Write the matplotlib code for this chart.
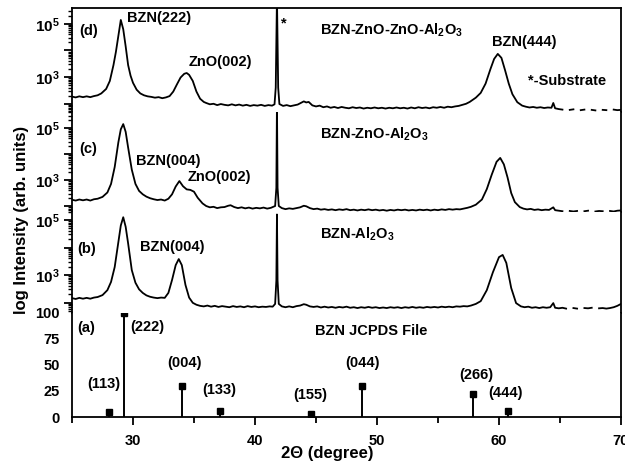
import matplotlib
matplotlib.use("Agg")
import matplotlib.pyplot as plt
import matplotlib.ticker as ticker
import numpy as np

plt.rcParams["font.family"] = ["Liberation Sans", "DejaVu Sans"]
plt.rcParams["font.weight"] = "bold"
plt.rcParams["mathtext.fontset"] = "custom"
plt.rcParams["mathtext.rm"] = "Liberation Sans:bold"
plt.rcParams["mathtext.it"] = "Liberation Sans:bold"
plt.rcParams["mathtext.bf"] = "Liberation Sans:bold"
plt.rcParams["mathtext.default"] = "rm"

nan = float("nan")

# ---- scans: (2theta in degree, log10 of counts) ----
# nan = gap in the trace (zero counts on a log axis)
scan_d = [(25.0, 2.26), (25.3, 2.23), (25.6, 2.27), (25.9, 2.24), (26.2, 2.27), (26.5, 2.24),
          (26.8, 2.28), (27.1, 2.31), (27.4, 2.38), (27.8, 2.55), (28.1, 2.85), (28.4, 3.45),
          (28.6, 3.95), (28.8, 4.55), (29.0, 5.15), (29.2, 4.80), (29.4, 4.15), (29.6, 3.45),
          (29.8, 3.05), (30.0, 2.78), (30.3, 2.52), (30.6, 2.38), (30.9, 2.31), (31.2, 2.27),
          (31.5, 2.25), (31.8, 2.22), (32.1, 2.24), (32.4, 2.20), (32.7, 2.23), (33.0, 2.28),
          (33.3, 2.45), (33.6, 2.72), (33.9, 2.98), (34.2, 3.12), (34.4, 3.15), (34.6, 3.08),
          (34.9, 2.85), (35.2, 2.45), (35.5, 2.18), (35.8, 2.06), (36.0, 2.02), (36.3, 1.97),
          (36.6, 1.99), (36.9, 1.94), (37.2, 1.98), (37.5, 1.95), (37.8, 1.93), (38.1, 1.97),
          (38.4, 1.93), (38.7, 1.96), (39.0, 1.92), (39.3, 1.95), (39.6, 1.91), (39.9, 1.94),
          (40.2, 1.92), (40.5, 1.95), (40.8, 1.91), (41.1, 1.94), (41.4, 1.92), (41.6, 1.97),
          (41.7, 2.60), (41.8, 6.00), (41.9, 2.60), (42.0, 1.98), (42.3, 1.91), (42.6, 1.94),
          (42.9, 1.90), (43.2, 1.93), (43.5, 1.96), (43.8, 2.03), (44.0, 2.08), (44.2, 2.04),
          (44.4, 2.06), (44.7, 1.93), (45.0, 1.89), (45.3, 1.92), (45.6, 1.86), (45.9, 1.89),
          (46.2, 1.84), (46.5, 1.87), (46.8, 1.83), (47.1, 1.87), (47.4, 1.84), (47.7, 1.82),
          (48.0, 1.86), (48.3, 1.83), (48.6, 1.85), (48.9, 1.81), (49.2, 1.84), (49.5, 1.82),
          (49.8, 1.85), (50.1, 1.82), (50.4, 1.84), (50.7, 1.81), (51.0, 1.84), (51.3, 1.82),
          (51.6, 1.85), (51.9, 1.82), (52.2, 1.84), (52.5, 1.81), (52.8, 1.85), (53.1, 1.82),
          (53.4, 1.86), (53.7, 1.83), (54.0, 1.85), (54.3, 1.82), (54.6, 1.86), (54.9, 1.84),
          (55.2, 1.87), (55.5, 1.84), (55.8, 1.88), (56.1, 1.86), (56.4, 1.89), (56.7, 1.91),
          (57.0, 1.95), (57.3, 1.99), (57.6, 2.06), (58.1, 2.22), (58.5, 2.40), (58.9, 2.75),
          (59.3, 3.30), (59.6, 3.68), (59.9, 3.87), (60.2, 3.72), (60.5, 3.25), (60.8, 2.75),
          (61.1, 2.35), (61.5, 2.05), (61.9, 1.92), (62.2, 1.88), (62.5, 1.85), (62.8, 1.87),
          (63.1, 1.84), (63.4, 1.86), (63.7, 1.83), (64.0, 1.85), (64.3, 1.84), (64.45, 2.02),
          (64.6, 1.82), (64.9, 1.79), (65.2, 1.77), (65.5, nan), (65.8, 1.76), (66.1, 1.78),
          (66.4, nan), (66.7, 1.75), (67.0, 1.77), (67.3, nan), (67.6, 1.76), (67.9, 1.74),
          (68.2, nan), (68.5, 1.76), (68.8, 1.75), (69.1, nan), (69.4, 1.77), (69.7, 1.75),
          (70.0, 1.76)]

scan_c = [(25.0, 2.24), (25.3, 2.21), (25.6, 2.25), (25.9, 2.22), (26.2, 2.25), (26.5, 2.21),
          (26.8, 2.26), (27.1, 2.28), (27.5, 2.35), (27.9, 2.52), (28.2, 2.85), (28.5, 3.50),
          (28.8, 4.45), (29.0, 4.95), (29.2, 5.15), (29.4, 4.85), (29.6, 4.25), (29.9, 3.40),
          (30.2, 2.85), (30.5, 2.58), (30.8, 2.45), (31.1, 2.36), (31.4, 2.30), (31.7, 2.26),
          (32.0, 2.23), (32.3, 2.25), (32.6, 2.21), (32.9, 2.28), (33.2, 2.45), (33.5, 2.75),
          (33.8, 2.96), (34.1, 2.76), (34.4, 2.64), (34.7, 2.62), (35.0, 2.55), (35.3, 2.32),
          (35.7, 2.10), (36.0, 2.00), (36.3, 1.95), (36.6, 1.97), (36.9, 1.92), (37.2, 1.95),
          (37.5, 1.96), (37.8, 2.01), (38.0, 2.03), (38.3, 1.96), (38.6, 1.92), (38.9, 1.95),
          (39.2, 1.91), (39.5, 1.94), (39.8, 1.90), (40.1, 1.93), (40.4, 1.91), (40.7, 1.94),
          (41.0, 1.90), (41.3, 1.93), (41.65, 2.00), (41.75, 2.70), (41.8, 6.00), (41.85, 2.70),
          (41.95, 2.00), (42.2, 1.92), (42.5, 1.88), (42.8, 1.91), (43.1, 1.89), (43.4, 1.92),
          (43.7, 1.95), (44.0, 2.01), (44.2, 1.99), (44.5, 1.92), (44.8, 1.88), (45.1, 1.90),
          (45.4, 1.86), (45.7, 1.88), (46.0, 1.85), (46.3, 1.87), (46.6, 1.84), (46.9, 1.87),
          (47.2, 1.85), (47.5, 1.88), (47.8, 1.84), (48.1, 1.86), (48.4, 1.83), (48.7, 1.86),
          (49.0, 1.84), (49.3, 1.87), (49.6, 1.84), (49.9, 1.86), (50.2, 1.83), (50.5, 1.85),
          (50.8, 1.82), (51.1, 1.85), (51.4, 1.83), (51.7, 1.86), (52.0, 1.84), (52.3, 1.86),
          (52.6, 1.83), (52.9, 1.85), (53.2, 1.83), (53.5, 1.86), (53.8, 1.84), (54.1, 1.86),
          (54.4, 1.83), (54.7, 1.86), (55.0, 1.84), (55.3, 1.87), (55.6, 1.85), (55.9, 1.88),
          (56.2, 1.86), (56.5, 1.88), (56.8, 1.87), (57.1, 1.90), (57.4, 1.93), (57.7, 1.97),
          (58.1, 2.05), (58.6, 2.25), (59.0, 2.65), (59.4, 3.20), (59.8, 3.70), (60.1, 3.85),
          (60.4, 3.60), (60.7, 3.10), (61.0, 2.50), (61.3, 2.15), (61.7, 1.96), (62.0, 1.90),
          (62.3, 1.87), (62.6, 1.89), (62.9, 1.85), (63.2, 1.87), (63.5, 1.84), (63.8, 1.86),
          (64.1, 1.85), (64.45, 1.95), (64.6, 1.84), (64.9, 1.82), (65.2, 1.80), (65.5, nan),
          (65.8, 1.81), (66.1, 1.79), (66.4, 1.81), (66.7, nan), (67.0, 1.80), (67.3, 1.82),
          (67.6, nan), (67.9, 1.79), (68.2, 1.81), (68.5, 1.80), (68.8, nan), (69.1, 1.81),
          (69.4, 1.79), (69.7, 1.82), (70.0, 1.83)]

scan_b = [(25.0, 2.16), (25.3, 2.13), (25.6, 2.17), (25.9, 2.14), (26.2, 2.17), (26.5, 2.14),
          (26.8, 2.18), (27.1, 2.20), (27.5, 2.27), (27.9, 2.45), (28.2, 2.75), (28.5, 3.29),
          (28.8, 4.20), (29.0, 4.80), (29.2, 5.10), (29.4, 4.75), (29.6, 4.15), (29.9, 3.18),
          (30.2, 2.72), (30.5, 2.48), (30.8, 2.35), (31.1, 2.26), (31.4, 2.21), (31.7, 2.18),
          (32.0, 2.16), (32.3, 2.18), (32.6, 2.17), (32.9, 2.35), (33.2, 2.82), (33.5, 3.36),
          (33.75, 3.58), (34.0, 3.36), (34.3, 2.64), (34.6, 2.18), (34.9, 1.99), (35.2, 1.92),
          (35.5, 1.88), (35.8, 1.86), (36.1, 1.89), (36.4, 1.85), (36.7, 1.88), (37.0, 1.84),
          (37.3, 1.87), (37.6, 1.85), (37.9, 1.83), (38.2, 1.87), (38.5, 1.84), (38.8, 1.86),
          (39.1, 1.83), (39.4, 1.87), (39.7, 1.84), (40.0, 1.86), (40.3, 1.83), (40.6, 1.85),
          (40.9, 1.84), (41.2, 1.86), (41.45, 1.85), (41.65, 1.95), (41.75, 2.80), (41.8, 5.20),
          (41.85, 2.80), (41.95, 1.95), (42.2, 1.86), (42.5, 1.83), (42.8, 1.86), (43.1, 1.83),
          (43.4, 1.87), (43.7, 1.89), (44.0, 1.94), (44.2, 1.92), (44.5, 1.86), (44.8, 1.84),
          (45.1, 1.86), (45.4, 1.82), (45.7, 1.85), (46.0, 1.82), (46.3, 1.84), (46.6, 1.81),
          (46.9, 1.84), (47.2, 1.82), (47.5, 1.85), (47.8, 1.81), (48.1, 1.83), (48.4, 1.80),
          (48.7, 1.83), (49.0, 1.81), (49.3, 1.84), (49.6, 1.81), (49.9, 1.83), (50.2, 1.80),
          (50.5, 1.82), (50.8, 1.80), (51.1, 1.83), (51.4, 1.81), (51.7, 1.83), (52.0, 1.80),
          (52.3, 1.83), (52.6, 1.81), (52.9, 1.84), (53.2, 1.81), (53.5, 1.83), (53.8, 1.81),
          (54.1, 1.84), (54.4, 1.82), (54.7, 1.84), (55.0, 1.82), (55.3, 1.85), (55.6, 1.83),
          (55.9, 1.85), (56.2, 1.83), (56.5, 1.86), (56.8, 1.85), (57.1, 1.87), (57.4, 1.86),
          (57.7, 1.89), (58.1, 1.95), (58.5, 2.05), (59.0, 2.45), (59.5, 3.10), (60.0, 3.65),
          (60.3, 3.73), (60.6, 3.44), (61.0, 2.53), (61.4, 1.98), (61.8, 1.86), (62.1, 1.83),
          (62.4, 1.85), (62.7, 1.81), (63.0, 1.83), (63.3, 1.80), (63.6, 1.83), (63.9, 1.81),
          (64.2, 1.83), (64.45, 1.98), (64.6, 1.81), (64.9, 1.79), (65.2, 1.81), (65.5, 1.78),
          (65.8, nan), (66.1, 1.80), (66.4, 1.78), (66.7, nan), (67.0, 1.80), (67.3, 1.79),
          (67.6, 1.81), (67.9, nan), (68.2, 1.79), (68.5, 1.80), (68.8, 1.78), (69.1, 1.80),
          (69.4, 1.83), (69.7, 1.88), (70.0, 1.95)]

# JCPDS reference lines
jcpds_theta = [28.0, 29.3, 34.0, 37.1, 44.6, 48.8, 57.9, 60.7]
jcpds_int = [5, 100, 30, 6, 3, 30, 22, 6]
jcpds_hkl = ["(113)", "(222)", "(004)", "(133)", "(155)", "(044)", "(266)", "(444)"]

W, H = 625, 473
fig = plt.figure(figsize=(W / 100, H / 100), dpi=100)


def px(x, y):
    return x / W, 1 - y / H


def panel(top, bottom):
    return fig.add_axes([72 / W, 1 - bottom / H, 549 / W, (bottom - top) / H])


ax_d = panel(8, 112)
ax_c = panel(112, 212)
ax_b = panel(212, 313)
ax_a = panel(313, 417)

log_fmt = ticker.FuncFormatter(
    lambda v, p: r"$10^{%d}$" % round(np.log10(v)) if round(np.log10(v)) in (3, 5) else "")

for ax, scan, lim in [(ax_d, scan_d, (1.68, 5.60)),
                      (ax_c, scan_c, (1.77, 5.615)),
                      (ax_b, scan_b, (1.62, 5.29))]:
    th, li = zip(*scan)
    ax.plot(th, 10 ** np.asarray(li), color="black", lw=1.3)
    ax.set_yscale("log")
    ax.set_ylim(10 ** lim[0], 10 ** lim[1])
    ax.set_xlim(25, 70)
    ax.yaxis.set_major_locator(ticker.LogLocator(base=10, numticks=10))
    ax.yaxis.set_minor_locator(ticker.LogLocator(base=10, subs=np.arange(2, 10), numticks=20))
    ax.yaxis.set_major_formatter(log_fmt)
    ax.yaxis.set_minor_formatter(ticker.NullFormatter())
    ax.tick_params(axis="y", which="major", length=6, width=1.3, labelsize=11, pad=3)
    ax.tick_params(axis="y", which="minor", length=3, width=1.0)
    ax.tick_params(axis="x", bottom=False, labelbottom=False)
    ax.spines["bottom"].set_visible(False)
    if ax is not ax_d:
        ax.spines["top"].set_visible(False)

# panel (a): stick pattern
ax_a.set_xlim(25, 70)
ax_a.set_ylim(0, 100)
ax_a.vlines(jcpds_theta, 0, jcpds_int, color="black", lw=1.4)
ax_a.plot(jcpds_theta, jcpds_int, "s", color="black", ms=5)
ax_a.spines["top"].set_visible(False)
ax_a.set_yticks([0, 25, 50, 75, 100])
ax_a.tick_params(axis="y", length=0, labelsize=10.5, pad=9)
ax_a.set_xticks([30, 40, 50, 60, 70])
ax_a.xaxis.set_minor_locator(ticker.MultipleLocator(5))
ax_a.tick_params(axis="x", which="major", length=6, width=1.3, labelsize=10.5, pad=6)
ax_a.tick_params(axis="x", which="minor", length=4, width=1.3)

for ax in (ax_d, ax_c, ax_b, ax_a):
    for s in ax.spines.values():
        s.set_linewidth(1.3)

tk = dict(fontsize=10.5, fontweight="bold", va="baseline")


def label(x, y, s, ha="left", **kw):
    fig.text(*px(x, y), s, ha=ha, **tk, **kw)


# panel labels and peak labels
label(79, 35, "(d)")
label(127, 22, "BZN(222)")
label(284, 27, "*", ha="center")
label(189, 66, "ZnO(002)")
label(320, 35, r"BZN-ZnO-ZnO-Al$_2$O$_3$")
label(492, 46, "BZN(444)")
label(528, 85, "*-Substrate")

label(79, 153, "(c)")
label(136, 165, "BZN(004)")
label(188, 181, "ZnO(002)")
label(320, 139, r"BZN-ZnO-Al$_2$O$_3$")

label(77, 253, "(b)")
label(140, 251, "BZN(004)")
label(320, 239, r"BZN-Al$_2$O$_3$")

label(77, 332, "(a)")
label(315, 335, "BZN JCPDS File")

hkl_pos = [(104, 388, "center"), (130, 331, "left"), (184, 367, "center"), (219, 394, "center"),
           (310, 399, "center"), (362, 367, "center"), (476, 379, "center"), (505, 397, "center")]
for (x, y, ha), s in zip(hkl_pos, jcpds_hkl):
    label(x, y, s, ha=ha)

fig.text(*px(22, 220), "log Intensity (arb. units)", rotation=90, ha="center", va="center",
         fontsize=12, fontweight="bold")
fig.text(*px(327, 458), "2\u0398 (degree)", ha="center", va="baseline",
         fontsize=12, fontweight="bold")

fig.savefig("out.png", dpi=100)
